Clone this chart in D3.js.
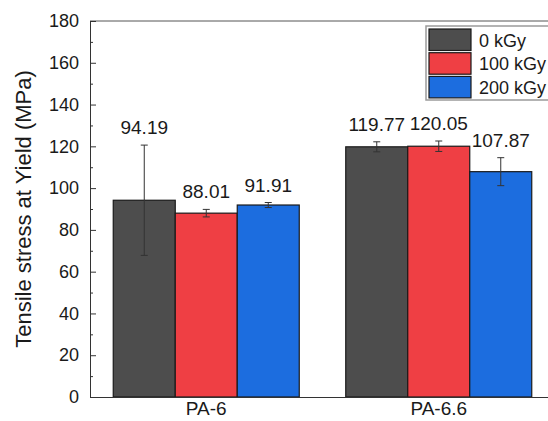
<!DOCTYPE html>
<html>
<head>
<meta charset="utf-8">
<script src="https://cdn.jsdelivr.net/npm/d3@7"></script>
<style>
  html, body { margin: 0; padding: 0; background: #fff; }
  svg { display: block; font-family: "Liberation Sans", Arial, sans-serif; }
</style>
</head>
<body>
<svg id="chart" width="548" height="421"></svg>
<script>
// Tensile stress at yield for PA-6 and PA-6.6 after irradiation
const materials = ["PA-6", "PA-6.6"];
const doses = ["0 kGy", "100 kGy", "200 kGy"];
const doseColors = ["#4d4d4d", "#ef3f44", "#1c6ddf"];
const pa6Values = [94.19, 88.01, 91.91];
const pa66Values = [119.77, 120.05, 107.87];
const pa6Errors = [26.4, 1.8, 1.2];
const pa66Errors = [2.4, 2.5, 6.7];
const yTicks = [0, 20, 40, 60, 80, 100, 120, 140, 160, 180];
const yMinorTicks = [10, 30, 50, 70, 90, 110, 130, 150, 170];

const rows = materials.map((m, i) => ({
  material: m,
  values: i === 0 ? pa6Values : pa66Values,
  errors: i === 0 ? pa6Errors : pa66Errors
}));

const FONT = "Liberation Sans, Arial, sans-serif";
const svg = d3.select("#chart");
const margin = { left: 90, right: -7, top: 21, bottom: 24 };
const width = 548 - margin.left - margin.right;
const height = 421 - margin.top - margin.bottom;

const g = svg.append("g").attr("transform", `translate(${margin.left},${margin.top})`);

const x0 = d3.scaleBand().domain(materials).range([0, width]).paddingInner(0.2).paddingOuter(0.1);
const x1 = d3.scaleBand().domain(doses).range([0, x0.bandwidth()]).padding(0);
const y = d3.scaleLinear().domain([0, 180]).range([height, 0]);
const color = d3.scaleOrdinal().domain(doses).range(doseColors);

// top frame line
g.append("line")
  .attr("x1", 0).attr("x2", width + 20)
  .attr("y1", y(180)).attr("y2", y(180))
  .attr("stroke", "#555").attr("stroke-width", 1);

// bars
const groups = g.selectAll(".grp").data(rows).join("g")
  .attr("class", "grp")
  .attr("transform", d => `translate(${x0(d.material)},0)`);

const items = groups.selectAll(".item")
  .data(d => doses.map((dose, k) => ({ dose, value: d.values[k], err: d.errors[k] })))
  .join("g").attr("class", "item");

items.append("rect")
  .attr("x", d => x1(d.dose))
  .attr("y", d => y(d.value))
  .attr("width", x1.bandwidth())
  .attr("height", d => y(0) - y(d.value))
  .attr("fill", d => color(d.dose))
  .attr("stroke", "#1a1a1a")
  .attr("stroke-width", 1.2);

// error bars
const capHalf = 3.5;
items.append("line")
  .attr("x1", d => x1(d.dose) + x1.bandwidth() / 2)
  .attr("x2", d => x1(d.dose) + x1.bandwidth() / 2)
  .attr("y1", d => y(d.value + d.err))
  .attr("y2", d => y(d.value - d.err))
  .attr("stroke", "#333").attr("stroke-width", 1);
items.selectAll(".cap").data(d => [d.value + d.err, d.value - d.err].map(v => ({ v, d })))
  .join("line").attr("class", "cap")
  .attr("x1", c => x1(c.d.dose) + x1.bandwidth() / 2 - capHalf)
  .attr("x2", c => x1(c.d.dose) + x1.bandwidth() / 2 + capHalf)
  .attr("y1", c => y(c.v)).attr("y2", c => y(c.v))
  .attr("stroke", "#333").attr("stroke-width", 1);

// value labels
items.append("text")
  .attr("x", d => x1(d.dose) + x1.bandwidth() / 2)
  .attr("y", d => y(d.value + d.err) - 11)
  .attr("text-anchor", "middle")
  .attr("font-size", 19)
  .attr("fill", "#1a1a1a")
  .text(d => d.value.toFixed(2));

// y axis (major + minor ticks, pointing inward)
const yAxis = g.append("g")
  .call(d3.axisLeft(y).tickValues(yTicks).tickSizeInner(-6).tickSizeOuter(0).tickPadding(11));
yAxis.selectAll("text").attr("font-size", 18).attr("fill", "#1a1a1a").attr("font-family", FONT);
yAxis.select(".domain").attr("stroke", "#333");
yAxis.selectAll(".tick line").attr("stroke", "#333");

const yMinor = g.append("g")
  .call(d3.axisLeft(y).tickValues(yMinorTicks).tickSizeInner(-3).tickSizeOuter(0).tickFormat(""));
yMinor.select(".domain").remove();
yMinor.selectAll(".tick line").attr("stroke", "#333");

// x axis
const xAxis = g.append("g")
  .attr("transform", `translate(0,${height})`)
  .call(d3.axisBottom(x0).tickSize(0).tickPadding(5));
xAxis.select(".domain").attr("stroke", "#333");
xAxis.selectAll("text").attr("font-size", 19).attr("fill", "#1a1a1a").attr("font-family", FONT);

// y axis title
svg.append("text")
  .attr("transform", `translate(31,${margin.top + height / 2}) rotate(-90)`)
  .attr("text-anchor", "middle")
  .attr("font-size", 22)
  .attr("fill", "#1a1a1a")
  .text("Tensile stress at Yield (MPa)");

// legend
const legend = svg.append("g").attr("transform", "translate(426,26)");
legend.append("rect")
  .attr("x", 0).attr("y", 0).attr("width", 140).attr("height", 74)
  .attr("fill", "#fff").attr("stroke", "#9a9a9a").attr("stroke-width", 1.5);
const lItems = legend.selectAll(".li").data(doses).join("g")
  .attr("class", "li")
  .attr("transform", (d, i) => `translate(3,${3 + i * 23.7})`);
lItems.append("rect")
  .attr("width", 42).attr("height", 21.5)
  .attr("fill", d => color(d))
  .attr("stroke", "#1a1a1a").attr("stroke-width", 1.2);
lItems.append("text")
  .attr("x", 50).attr("y", 17.5)
  .attr("font-size", 18)
  .attr("fill", "#1a1a1a")
  .text(d => d);
</script>
</body>
</html>
